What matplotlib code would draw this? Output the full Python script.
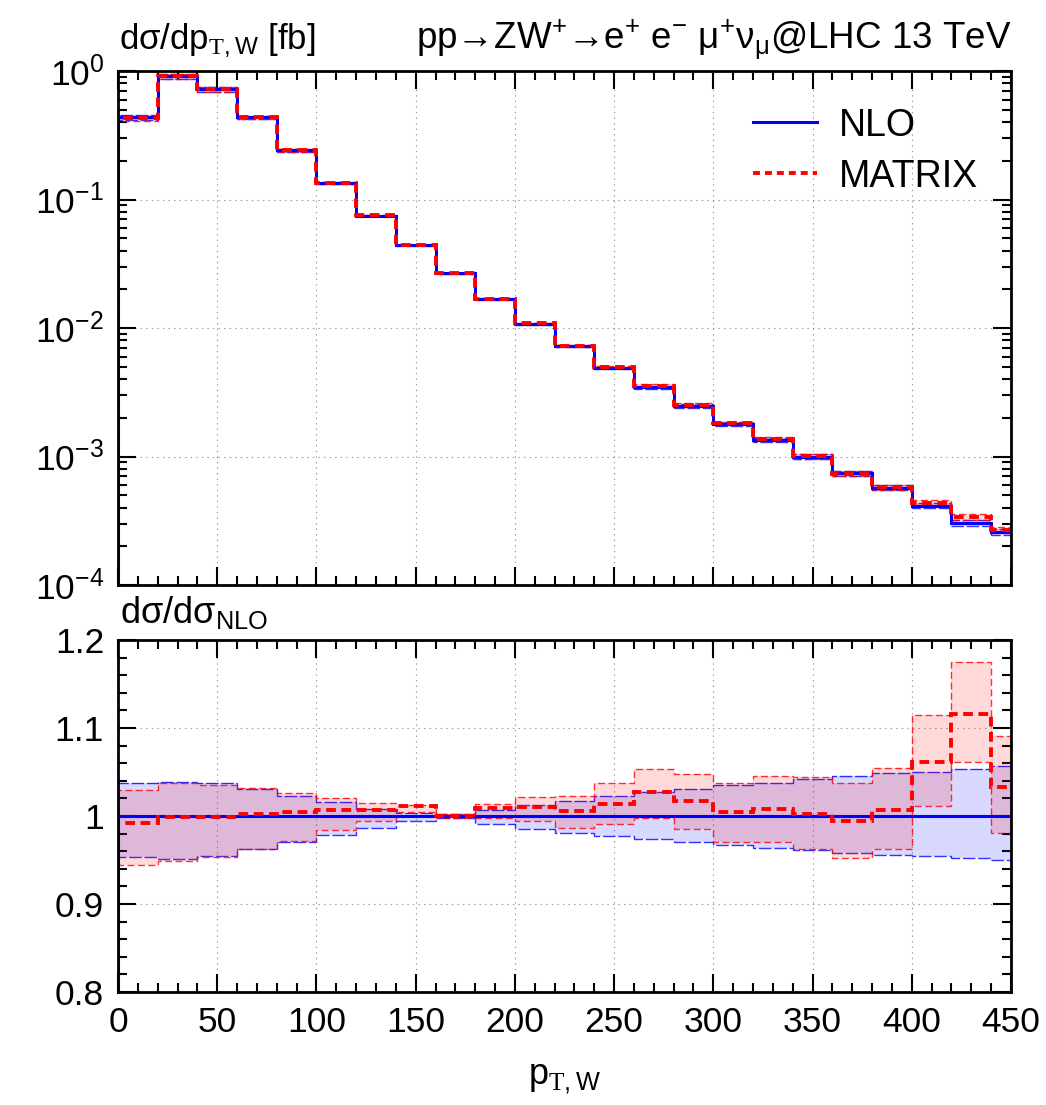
import matplotlib

matplotlib.use("Agg")
from matplotlib import pyplot as plt
from matplotlib.lines import Line2D
from matplotlib.ticker import FixedFormatter, FixedLocator, LogLocator, MultipleLocator, NullFormatter

# bins of p_T,W [GeV]: 20 GeV wide, last bin runs past the plotted range
bin_edges = list(range(0, 461, 20))

# NLO central value, dsigma/dp_T,W [fb]
nlo = [0.436, 0.91, 0.72, 0.436, 0.241, 0.134, 0.0748, 0.044, 0.0266, 0.0168,
       0.01074, 0.00724, 0.00489, 0.00347, 0.00247, 0.00180, 0.00135, 0.00100,
       0.00074, 0.000573, 0.000413, 0.000304, 0.000259]

# scale bands and MATRIX, as ratios to NLO
nlo_up = [1.038, 1.039, 1.037, 1.031, 1.023, 1.016, 1.008, 1.003, 1.002, 1.007, 1.013, 1.017,
          1.023, 1.027, 1.031, 1.035, 1.038, 1.042, 1.046, 1.049, 1.050, 1.053, 1.057]
nlo_dn = [0.953, 0.951, 0.954, 0.963, 0.970, 0.978, 0.986, 0.994, 0.998, 0.991, 0.985, 0.981,
          0.977, 0.974, 0.970, 0.967, 0.964, 0.961, 0.958, 0.956, 0.955, 0.952, 0.950]
matrix_c = [0.992, 0.999, 0.999, 1.002, 1.004, 1.007, 1.007, 1.011, 1.000, 1.009, 1.010, 1.006,
            1.014, 1.027, 1.017, 1.004, 1.008, 1.002, 0.994, 1.007, 1.061, 1.116, 1.033]
matrix_up = [1.029, 1.038, 1.035, 1.032, 1.026, 1.021, 1.015, 1.013, 1.002, 1.014, 1.022, 1.023,
             1.037, 1.053, 1.048, 1.038, 1.046, 1.044, 1.038, 1.054, 1.115, 1.175, 1.091]
matrix_dn = [0.944, 0.949, 0.953, 0.963, 0.972, 0.984, 0.994, 1.005, 0.998, 0.998, 0.994, 0.986,
             0.991, 0.998, 0.985, 0.970, 0.970, 0.963, 0.952, 0.962, 1.011, 1.061, 0.981]

ratio_ticks = [0.8, 0.9, 1.0, 1.1, 1.2]
ratio_tick_labels = ["0.8", "0.9", "1", "1.1", "1.2"]

BLUE = "#0000ff"
RED = "#ff0000"

plt.rcParams.update({
    "font.family": ["Liberation Sans", "DejaVu Sans"],
    "mathtext.fontset": "custom",
    "mathtext.rm": "Liberation Serif",
    "mathtext.sf": "Liberation Sans",
    "mathtext.it": "Liberation Sans:italic",
    "mathtext.default": "regular",
    "lines.scale_dashes": False,
    "axes.linewidth": 2.0,
})


def _band(ax, low, high, color, dashes):
    ax.stairs(high, bin_edges, baseline=low, fill=True, facecolor=color, alpha=0.15, linewidth=0)
    for edge in (low, high):
        ax.stairs(edge, bin_edges, edgecolor=color, linewidth=1.0, linestyle=(0, dashes), alpha=0.8)


def _style(ax):
    ax.set_xlim(0, 450)
    ax.xaxis.set_major_locator(MultipleLocator(50))
    ax.xaxis.set_minor_locator(MultipleLocator(10))
    ax.tick_params(which="both", direction="in", top=True, right=True, width=1.5, labelsize=25.5)
    ax.tick_params(which="major", length=13, pad=10)
    ax.tick_params(which="minor", length=6.5)
    ax.grid(True, which="major", linestyle=(0, (1, 3)), color="#999999", linewidth=0.8)
    ax.set_axisbelow(True)


fig = plt.figure(figsize=(10.46, 11.05), dpi=100)
top = fig.add_axes([118 / 1046, 1 - 585 / 1105, 893 / 1046, 514 / 1105])
bottom = fig.add_axes([118 / 1046, 1 - 992 / 1105, 893 / 1046, 352 / 1105])

# upper panel: absolute distribution
matrix = [n * r for n, r in zip(nlo, matrix_c)]
_band(top, [n * r for n, r in zip(nlo, nlo_dn)], [n * r for n, r in zip(nlo, nlo_up)], BLUE, (9, 2))
_band(top, [n * r for n, r in zip(nlo, matrix_dn)], [n * r for n, r in zip(nlo, matrix_up)], RED, (5, 2.5))
top.stairs(nlo, bin_edges, edgecolor=BLUE, linewidth=2.2)
top.stairs(matrix, bin_edges, edgecolor=RED, linewidth=2.8, linestyle=(0, (7, 4)))
top.set_yscale("log")
top.set_ylim(1e-4, 1)
top.yaxis.set_major_locator(LogLocator(base=10, numticks=10))
top.yaxis.set_minor_locator(LogLocator(base=10, subs=range(2, 10), numticks=10))
top.yaxis.set_minor_formatter(NullFormatter())
_style(top)
top.tick_params(axis="x", labelbottom=False)

handles = [
    Line2D([], [], color=BLUE, linewidth=2.2),
    Line2D([], [], color=RED, linewidth=2.8, linestyle=(0, (5, 3.6))),
]
top.legend(handles, ["NLO", "MATRIX"], loc="upper right", bbox_to_anchor=(0.98, 0.958),
           frameon=False, fontsize=27, handlelength=1.7, handletextpad=0.6, labelspacing=0.4,
           borderaxespad=0)

# lower panel: ratio to NLO
ones = [1.0] * len(nlo)
_band(bottom, nlo_dn, nlo_up, BLUE, (9, 2))
_band(bottom, matrix_dn, matrix_up, RED, (5, 2.5))
bottom.stairs(ones, bin_edges, edgecolor=BLUE, linewidth=2.2)
bottom.stairs(matrix_c, bin_edges, edgecolor=RED, linewidth=2.8, linestyle=(0, (7, 4)))
bottom.set_ylim(0.8, 1.2)
bottom.yaxis.set_major_locator(FixedLocator(ratio_ticks))
bottom.yaxis.set_major_formatter(FixedFormatter(ratio_tick_labels))
bottom.yaxis.set_minor_locator(MultipleLocator(0.02))
_style(bottom)

fig.text(119 / 1046, 1 - 49 / 1105, r"dσ/dp$_{\mathrm{T}, W}$ [fb]", ha="left", va="baseline", fontsize=25)
fig.text(1011 / 1046, 1 - 49 / 1105, r"pp→ZW$^{+}$→e$^{+}$ e$^{-}$ μ$^{+}$ν$_{μ}$@LHC 13 TeV",
         ha="right", va="baseline", fontsize=26.5)
fig.text(120 / 1046, 1 - 623 / 1105, r"dσ/dσ$_{NLO}$", ha="left", va="baseline", fontsize=26)
fig.text(564 / 1046, 1 - 1085 / 1105, r"p$_{\mathrm{T}, W}$", ha="center", va="baseline", fontsize=26)

fig.savefig("out.png", dpi=100)
plt.close(fig)
